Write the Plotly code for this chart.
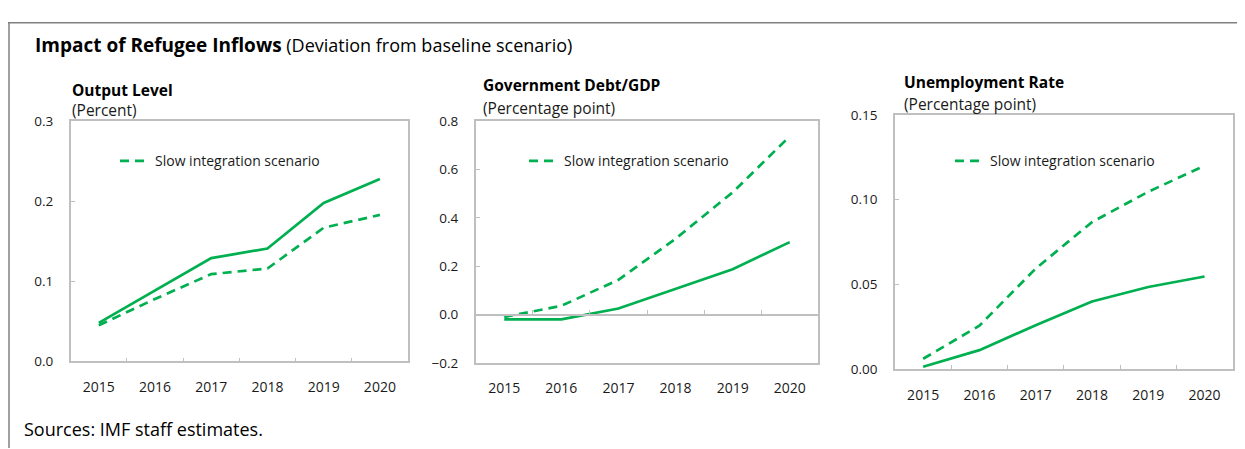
import plotly.graph_objects as go

W, H = 1245, 449
OFF = 8  # the page's default body margin shifts the figure by 8px; compensate

years = ["2015", "2016", "2017", "2018", "2019", "2020"]

output_base = [0.048, 0.088, 0.129, 0.141, 0.198, 0.228]
output_slow = [0.045, 0.078, 0.109, 0.116, 0.167, 0.183]

debt_base = [-0.02, -0.02, 0.025, 0.108, 0.188, 0.30]
debt_slow = [-0.01, 0.036, 0.144, 0.314, 0.506, 0.738]

unemp_base = [0.0015, 0.0113, 0.026, 0.040, 0.0485, 0.0547]
unemp_slow = [0.0062, 0.0257, 0.0594, 0.0868, 0.1047, 0.120]

title_bold = "Impact of Refugee Inflows"
title_rest = "(Deviation from baseline scenario)"
panel_titles = ["Output Level", "Government Debt/GDP", "Unemployment Rate"]
panel_units = ["(Percent)", "(Percentage point)", "(Percentage point)"]
legend_label = "Slow integration scenario"
source_text = "Sources: IMF staff estimates."

y_ranges = [[0, 0.3], [-0.2, 0.8], [0, 0.15]]
y_dticks = [0.1, 0.2, 0.05]
y_formats = [".1f", ".1f", ".2f"]

GREEN = "#00B050"
AXIS = "#BFBFBF"
TXT = "#1a1a1a"
FONT = "Open Sans"

# panel boxes in screen pixels (left, right, top, bottom)
boxes = [(70.7, 408.0, 116.7, 366.7),
         (475.7, 818.3, 116.7, 368.3),
         (895.0, 1232.7, 110.0, 375.0)]


def fx(px):
    return (px - OFF) / W


def fy(py):
    return 1 - (py - OFF) / H


fig = go.Figure()

data = [(output_base, output_slow), (debt_base, debt_slow), (unemp_base, unemp_slow)]

for i, (base, slow) in enumerate(data):
    n = "" if i == 0 else str(i + 1)
    leg = "legend" if i == 0 else f"legend{i + 1}"
    fig.add_trace(go.Scatter(x=years, y=base, mode="lines", xaxis=f"x{n}", yaxis=f"y{n}",
                             line=dict(color=GREEN, width=2.7), showlegend=False))
    fig.add_trace(go.Scatter(x=years, y=slow, mode="lines", xaxis=f"x{n}", yaxis=f"y{n}",
                             name=legend_label, legend=leg,
                             line=dict(color=GREEN, width=2.7, dash="9px,6px")))

# invisible trace to carry the zero-line axis in panel 2
fig.add_trace(go.Scatter(x=years, y=debt_base, mode="lines", xaxis="x4", yaxis="y2",
                         line=dict(color="rgba(0,0,0,0)", width=0), showlegend=False,
                         hoverinfo="skip"))

layout = dict(width=W, height=H, margin=dict(l=0, r=0, t=0, b=0),
              paper_bgcolor="white", plot_bgcolor="white",
              font=dict(family=FONT, color=TXT, size=14))

for i, (l, r, t, b) in enumerate(boxes):
    n = "" if i == 0 else str(i + 1)
    layout[f"xaxis{n}"] = dict(
        domain=[fx(l), fx(r)], anchor=f"y{n}", type="category",
        range=[-0.5, 5.5], showline=True, mirror=True, linecolor=AXIS, linewidth=1.6,
        showgrid=False, zeroline=False, tickson="boundaries",
        ticks="" if i == 1 else "inside", ticklen=4, tickcolor=AXIS, tickwidth=1.3,
        ticklabelstandoff=12, tickfont=dict(size=14, color=TXT))
    layout[f"yaxis{n}"] = dict(
        domain=[fy(b), fy(t)], anchor=f"x{n}", range=y_ranges[i], dtick=y_dticks[i],
        tick0=y_ranges[i][0], tickformat=y_formats[i],
        showline=True, mirror=True, linecolor=AXIS, linewidth=1.6,
        showgrid=False, zeroline=False, ticks="inside", ticklen=4, tickcolor=AXIS,
        tickwidth=1.3, ticklabelstandoff=13,
        tickfont=dict(size=13.5, color=TXT))

# zero line with tick marks in panel 2
l2, r2, t2, b2 = boxes[1]
y0, y1 = y_ranges[1]
pos0 = fy(b2) + (0 - y0) / (y1 - y0) * (fy(t2) - fy(b2))
layout["xaxis4"] = dict(
    overlaying="x2", anchor="free", position=pos0, type="category",
    range=[-0.5, 5.5], showline=True, linecolor=AXIS, linewidth=1.6,
    showgrid=False, zeroline=False, tickson="boundaries", ticks="inside",
    ticklen=4, tickcolor=AXIS, tickwidth=1.3, showticklabels=False)

# legends
leg_pos = [115, 524, 950]
for i, xp in enumerate(leg_pos):
    key = "legend" if i == 0 else f"legend{i + 1}"
    layout[key] = dict(x=fx(xp), y=fy(158.3), xanchor="left", yanchor="middle",
                       bgcolor="rgba(0,0,0,0)", borderwidth=0,
                       font=dict(size=14, color=TXT, family=FONT))

fig.update_layout(**layout)

annotations = [
    dict(text=f"<span style='font-size:19px'><b>{title_bold}</b></span> {title_rest}",
         x=fx(33), y=fy(37), xanchor="left", yanchor="middle",
         font=dict(size=18, color="black", family=FONT)),
    dict(text=source_text, x=fx(22), y=fy(437), xanchor="left", yanchor="middle",
         font=dict(size=18, color="black", family=FONT)),
]
title_pos = [(70, 84, 105), (481, 79, 102.5), (901.5, 75.5, 98.5)]
for i, (xp, ty, uy) in enumerate(title_pos):
    annotations.append(dict(text=f"<b>{panel_titles[i]}</b>", x=fx(xp), y=fy(ty),
                            xanchor="left", yanchor="middle",
                            font=dict(size=15.5, color="black", family=FONT)))
    annotations.append(dict(text=panel_units[i], x=fx(xp), y=fy(uy),
                            xanchor="left", yanchor="middle",
                            font=dict(size=15.5, color=TXT, family=FONT)))
for a in annotations:
    a.update(xref="paper", yref="paper", showarrow=False)
fig.update_layout(annotations=annotations)

# outer frame (top and left edges)
fig.add_shape(type="line", xref="paper", yref="paper", x0=fx(8), x1=1, y0=fy(14), y1=fy(14),
              line=dict(color="#808080", width=1.5))
fig.add_shape(type="line", xref="paper", yref="paper", x0=fx(9), x1=fx(9), y0=fy(14), y1=0,
              line=dict(color="#808080", width=1.5))

fig.write_html("out.html", config={"displayModeBar": False})
